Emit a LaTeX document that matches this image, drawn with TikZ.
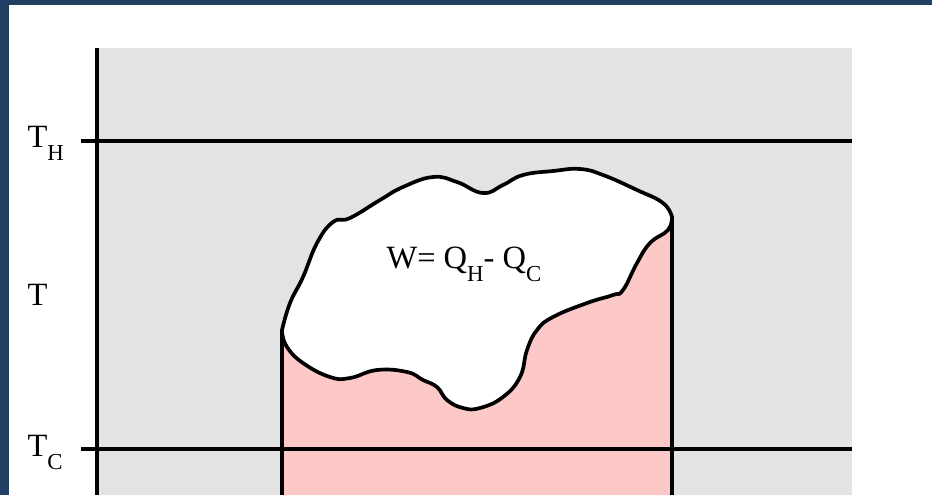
\documentclass[tikz,border=0pt]{standalone}
\usepackage{fontspec}
\setmainfont{Liberation Serif}
\definecolor{navy}{HTML}{213F62}
\definecolor{panelgray}{HTML}{E3E3E3}
\definecolor{heatpink}{HTML}{FDC8C8}
\newcommand\lowsub[1]{\raisebox{-7.4pt}{\fontsize{13pt}{13pt}\selectfont #1}}

\begin{document}
\begin{tikzpicture}[x=0.02cm, y=-0.02cm, line width=1.8pt,
  every node/.style={font=\fontsize{18.5pt}{18.5pt}\selectfont, inner sep=0pt},
  lbl/.style={anchor=base west}]
\useasboundingbox (0,0) rectangle (932,495);
% fondo e cornice
\fill[white] (0,0) rectangle (932,495);
\fill[navy] (0,0) rectangle (932,5);
\fill[navy] (0,0) rectangle (9,495);
\fill[panelgray] (97,48) rectangle (852,495);
% zona rosa sotto la nuvola
\fill[heatpink] (282,495) -- plot[smooth,tension=0.75] coordinates {(282,332) (287,347) (303,363) (330,377) (350,378) (377,370) (407,372) (423,380) (437,387) (447,400) (463,408) (480,408) (503,397) (520,377) (527,350) (537,330) (553,317) (587,303) (613,295) (623,290) (637,263) (650,243) (668,230) (672,217)} -- (672,495) -- cycle;
% nuvola del lavoro
\draw[fill=white, line width=2.1pt, line join=round] plot[smooth,tension=0.75] coordinates {(282,330) (290,303) (303,277) (317,243) (333,222) (350,218) (380,200) (403,187) (433,177) (457,182) (483,193) (503,185) (523,175) (553,171) (580,169) (603,175) (637,190) (663,203) (672,217)}
  -- plot[smooth,tension=0.75] coordinates {(672,217) (668,230) (650,243) (637,263) (623,290) (613,295) (587,303) (553,317) (537,330) (527,350) (520,377) (503,397) (480,408) (463,408) (447,400) (437,387) (423,380) (407,372) (377,370) (350,378) (330,377) (303,363) (287,347) (282,332)} -- cycle;
% bordi verticali
\draw (282,332) -- (282,495);
\draw (672,217) -- (672,495);
% isoterme e asse
\draw (81,141) -- (852,141);
\draw (81,449) -- (852,449);
\draw (97,48) -- (97,495);
% etichette
\node[lbl] (th) at (26,147) {T\lowsub{H}};
\node[lbl] (tmid) at (26,305) {T};
\node[lbl] (tc) at (26,456) {T\lowsub{C}};
\node[lbl] (work) at (385,268) {W= Q\lowsub{H}- Q\lowsub{C}};
\end{tikzpicture}
\end{document}
